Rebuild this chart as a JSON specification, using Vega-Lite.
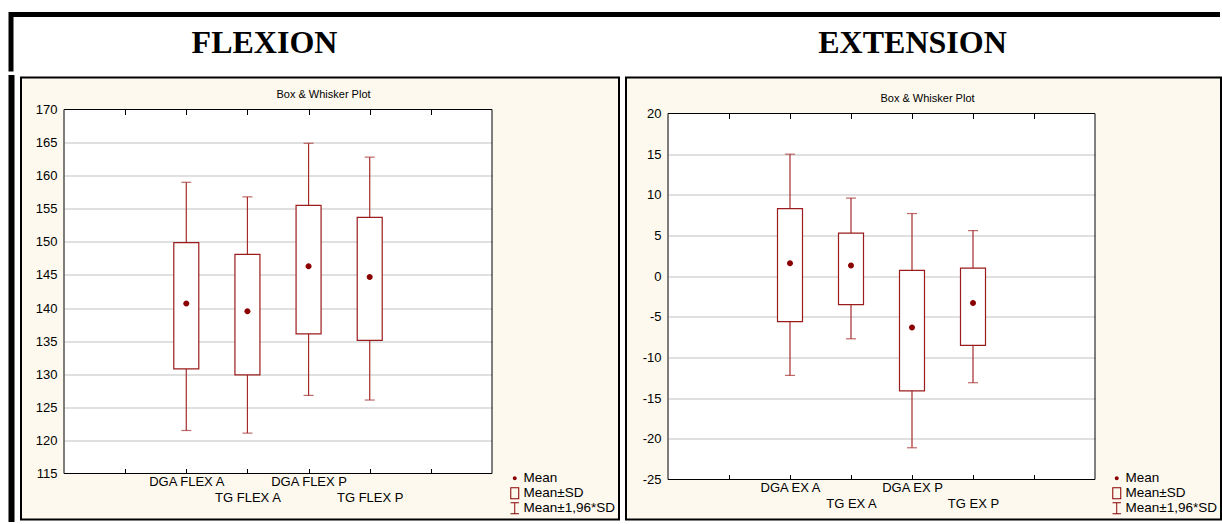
{
  "$schema": "https://vega.github.io/schema/vega-lite/v6.json",
  "background": "white",
  "padding": {"left": 8, "top": 11.5, "right": 0, "bottom": 0},
  "spacing": 0,
  "config": {"font": "Liberation Sans"},
  "vconcat": [
    {
      "width": 1209,
      "height": 57,
      "view": {"fill": "white", "stroke": "black", "strokeWidth": 5, "strokeDash": [1209, 1266, 57]},
      "data": {"values": [{"title": "FLEXION"}, {"title": "EXTENSION"}]},
      "mark": {"type": "text", "font": "Liberation Serif", "fontSize": 32, "fontWeight": "bold", "color": "black", "baseline": "middle"},
      "encoding": {
        "x": {"field": "title", "type": "nominal", "scale": {"type": "point", "domain": ["FLEXION", "EXTENSION"], "range": [253.5, 901.5], "padding": 0}, "axis": null},
        "text": {"field": "title"}
      }
    },
    {
      "hconcat": [
        {
          "width": 1,
          "height": 442,
          "view": {"fill": "black", "stroke": "black", "strokeWidth": 5},
          "data": {"values": []},
          "mark": "point",
          "encoding": {}
        },
        {
          "width": 598,
          "height": 442,
          "view": {"fill": "#FDF9EE", "stroke": "black", "strokeWidth": 2},
          "data": {"values": [
            {"group": "DGA FLEX A", "lo": 121.5, "q1": 130.8, "mean": 140.7, "q3": 149.9, "hi": 159.0},
            {"group": "TG FLEX A", "lo": 121.1, "q1": 129.9, "mean": 139.5, "q3": 148.1, "hi": 156.8},
            {"group": "DGA FLEX P", "lo": 126.8, "q1": 136.1, "mean": 146.3, "q3": 155.5, "hi": 164.9},
            {"group": "TG FLEX P", "lo": 126.1, "q1": 135.1, "mean": 144.7, "q3": 153.7, "hi": 162.8}
          ]},
          "resolve": {"scale": {"x": "independent"}, "axis": {"x": "independent"}},
          "layer": [
            {
              "data": {"values": [{}]},
              "mark": {"type": "rect", "fill": null, "fillOpacity": 0, "stroke": "black", "strokeWidth": 1},
              "encoding": {
                "x": {"datum": 0, "type": "quantitative", "scale": {"domain": [0, 7], "range": [43, 471], "nice": false, "zero": false},
                  "axis": {"orient": "top", "offset": -32, "values": [1, 2, 3, 3.5, 4, 5, 6], "labels": false, "domain": false,
                    "grid": true, "gridColor": "white", "gridWidth": 428, "gridOpacity": {"condition": {"test": "datum.value === 3.5", "value": 1}, "value": 0},
                    "tickSize": -5, "tickColor": "black", "tickWidth": 1, "tickOpacity": {"condition": {"test": "datum.value === 3.5", "value": 0}, "value": 1}, "zindex": 0,
                    "title": "Box & Whisker Plot", "titleFont": "Liberation Sans", "titleFontSize": 11, "titleFontWeight": "normal", "titleColor": "black", "titleX": 302, "titleY": -15, "titleBaseline": "middle", "titleAlign": "center", "titleAngle": 0}},
                "x2": {"datum": 7},
                "y": {"datum": 115, "type": "quantitative", "title": null, "scale": {"domain": [115, 170], "range": [396, 32], "nice": false, "zero": false},
                  "axis": {"orient": "left", "offset": -43, "values": [115, 120, 125, 130, 135, 140, 145, 150, 155, 160, 165, 170], "labelExpr": "'' + datum.value", "labelFont": "Liberation Sans", "labelFontSize": 13, "labelColor": "black", "labelPadding": 7, "ticks": false, "tickSize": 0, "domain": false, "grid": true, "gridColor": "#d6d6d6", "gridWidth": 1.5, "gridOpacity": {"condition": {"test": "datum.value === 115 || datum.value === 170", "value": 0}, "value": 1}, "zindex": 0, "title": null}},
                "y2": {"datum": 170}
              }
            },
            {
              "encoding": {
                "x": {"field": "group", "type": "nominal", "sort": null,
                  "scale": {"type": "point", "domain": [" ", "DGA FLEX A", "TG FLEX A", "DGA FLEX P", "TG FLEX P", "  "], "padding": 1, "range": [43, 471]},
                  "axis": {"orient": "bottom", "offset": -46, "labelExpr": "indexof(datum.label, 'TG') === 0 ? ['', datum.label] : datum.label", "labelFont": "Liberation Sans", "labelFontSize": 13, "labelColor": "black", "labelLineHeight": 16, "labelPadding": 7, "labelAngle": 0, "labelBaseline": "top", "tickSize": -5, "tickColor": "black", "domain": false, "grid": false, "zindex": 1, "title": null}}
              },
              "layer": [
                {
                  "mark": {"type": "rule", "color": "#A52A2A", "strokeWidth": 1.2},
                  "encoding": {
                    "y": {"field": "lo", "type": "quantitative", "title": null},
                    "y2": {"field": "hi"}
                  }
                },
                {
                  "mark": {"type": "tick", "orient": "horizontal", "color": "#A52A2A", "size": 10, "thickness": 1.2},
                  "encoding": {"y": {"field": "lo", "type": "quantitative", "title": null}}
                },
                {
                  "mark": {"type": "tick", "orient": "horizontal", "color": "#A52A2A", "size": 10, "thickness": 1.2},
                  "encoding": {"y": {"field": "hi", "type": "quantitative", "title": null}}
                },
                {
                  "mark": {"type": "bar", "width": 25, "fill": "white", "stroke": "#9B1C1C", "strokeWidth": 1.2},
                  "encoding": {
                    "y": {"field": "q1", "type": "quantitative", "title": null},
                    "y2": {"field": "q3"}
                  }
                },
                {
                  "mark": {"type": "point", "filled": true, "color": "#8B0000", "size": 330, "opacity": 1, "strokeWidth": 0},
                  "encoding": {
                    "y": {"field": "mean", "type": "quantitative", "title": null},
                    "shape": {"datum": "Mean",
                      "scale": {"domain": ["Mean", "Mean±SD", "Mean±1,96*SD"], "range": ["M0.33,0A0.33,0.33,0,1,1,-0.33,0A0.33,0.33,0,1,1,0.33,0Z", "M-0.75,-1H0.75V1H-0.75Z M-0.58,-0.83V0.83H0.58V-0.83Z", "M-0.7,-1H0.7V-0.85H0.08V0.85H0.7V1H-0.7V0.85H-0.08V-0.85H-0.7Z"]},
                      "legend": {"title": null, "orient": "bottom-right", "offset": 4, "labelFont": "Liberation Sans", "labelFontSize": 13.5, "labelColor": "black", "symbolSize": 144, "symbolFillColor": "#8B0000", "symbolStrokeWidth": 0, "rowPadding": 0, "labelOffset": 2, "padding": 0}}
                  }
                }
              ]
            }
          ]
        },
        {
          "width": 595,
          "height": 442,
          "view": {"fill": "#FDF9EE", "stroke": "black", "strokeWidth": 2},
          "data": {"values": [
            {"group": "DGA EX A", "lo": -12.2, "q1": -5.6, "mean": 1.6, "q3": 8.3, "hi": 15.0},
            {"group": "TG EX A", "lo": -7.7, "q1": -3.5, "mean": 1.3, "q3": 5.3, "hi": 9.6},
            {"group": "DGA EX P", "lo": -21.1, "q1": -14.1, "mean": -6.3, "q3": 0.7, "hi": 7.7},
            {"group": "TG EX P", "lo": -13.1, "q1": -8.5, "mean": -3.3, "q3": 1.0, "hi": 5.6}
          ]},
          "resolve": {"scale": {"x": "independent"}, "axis": {"x": "independent"}},
          "layer": [
            {
              "data": {"values": [{}]},
              "mark": {"type": "rect", "fill": null, "fillOpacity": 0, "stroke": "black", "strokeWidth": 1},
              "encoding": {
                "x": {"datum": 0, "type": "quantitative", "scale": {"domain": [0, 7], "range": [42, 469], "nice": false, "zero": false},
                  "axis": {"orient": "top", "offset": -36, "values": [1, 2, 3, 3.5, 4, 5, 6], "labels": false, "domain": false,
                    "grid": true, "gridColor": "white", "gridWidth": 427, "gridOpacity": {"condition": {"test": "datum.value === 3.5", "value": 1}, "value": 0},
                    "tickSize": -5, "tickColor": "black", "tickWidth": 1, "tickOpacity": {"condition": {"test": "datum.value === 3.5", "value": 0}, "value": 1}, "zindex": 0,
                    "title": "Box & Whisker Plot", "titleFont": "Liberation Sans", "titleFontSize": 11, "titleFontWeight": "normal", "titleColor": "black", "titleX": 301, "titleY": -15, "titleBaseline": "middle", "titleAlign": "center", "titleAngle": 0}},
                "x2": {"datum": 7},
                "y": {"datum": -25, "type": "quantitative", "title": null, "scale": {"domain": [-25, 20], "range": [402, 36], "nice": false, "zero": false},
                  "axis": {"orient": "left", "offset": -42, "values": [-25, -20, -15, -10, -5, 0, 5, 10, 15, 20], "labelExpr": "'' + datum.value", "labelFont": "Liberation Sans", "labelFontSize": 13, "labelColor": "black", "labelPadding": 7, "ticks": false, "tickSize": 0, "domain": false, "grid": true, "gridColor": "#d6d6d6", "gridWidth": 1.5, "gridOpacity": {"condition": {"test": "datum.value === -25 || datum.value === 20", "value": 0}, "value": 1}, "zindex": 0, "title": null}},
                "y2": {"datum": 20}
              }
            },
            {
              "encoding": {
                "x": {"field": "group", "type": "nominal", "sort": null,
                  "scale": {"type": "point", "domain": [" ", "DGA EX A", "TG EX A", "DGA EX P", "TG EX P", "  "], "padding": 1, "range": [42, 469]},
                  "axis": {"orient": "bottom", "offset": -40, "labelExpr": "indexof(datum.label, 'TG') === 0 ? ['', datum.label] : datum.label", "labelFont": "Liberation Sans", "labelFontSize": 13, "labelColor": "black", "labelLineHeight": 16, "labelPadding": 7, "labelAngle": 0, "labelBaseline": "top", "tickSize": -5, "tickColor": "black", "domain": false, "grid": false, "zindex": 1, "title": null}}
              },
              "layer": [
                {
                  "mark": {"type": "rule", "color": "#A52A2A", "strokeWidth": 1.2},
                  "encoding": {
                    "y": {"field": "lo", "type": "quantitative", "title": null},
                    "y2": {"field": "hi"}
                  }
                },
                {
                  "mark": {"type": "tick", "orient": "horizontal", "color": "#A52A2A", "size": 10, "thickness": 1.2},
                  "encoding": {"y": {"field": "lo", "type": "quantitative", "title": null}}
                },
                {
                  "mark": {"type": "tick", "orient": "horizontal", "color": "#A52A2A", "size": 10, "thickness": 1.2},
                  "encoding": {"y": {"field": "hi", "type": "quantitative", "title": null}}
                },
                {
                  "mark": {"type": "bar", "width": 25, "fill": "white", "stroke": "#9B1C1C", "strokeWidth": 1.2},
                  "encoding": {
                    "y": {"field": "q1", "type": "quantitative", "title": null},
                    "y2": {"field": "q3"}
                  }
                },
                {
                  "mark": {"type": "point", "filled": true, "color": "#8B0000", "size": 330, "opacity": 1, "strokeWidth": 0},
                  "encoding": {
                    "y": {"field": "mean", "type": "quantitative", "title": null},
                    "shape": {"datum": "Mean",
                      "scale": {"domain": ["Mean", "Mean±SD", "Mean±1,96*SD"], "range": ["M0.33,0A0.33,0.33,0,1,1,-0.33,0A0.33,0.33,0,1,1,0.33,0Z", "M-0.75,-1H0.75V1H-0.75Z M-0.58,-0.83V0.83H0.58V-0.83Z", "M-0.7,-1H0.7V-0.85H0.08V0.85H0.7V1H-0.7V0.85H-0.08V-0.85H-0.7Z"]},
                      "legend": {"title": null, "orient": "bottom-right", "offset": 4, "labelFont": "Liberation Sans", "labelFontSize": 13.5, "labelColor": "black", "symbolSize": 144, "symbolFillColor": "#8B0000", "symbolStrokeWidth": 0, "rowPadding": 0, "labelOffset": 2, "padding": 0}}
                  }
                }
              ]
            }
          ]
        }
      ],
      "spacing": 5,
      "resolve": {"scale": {"x": "independent", "y": "independent", "shape": "independent"}, "legend": {"shape": "independent"}}
    }
  ]
}
